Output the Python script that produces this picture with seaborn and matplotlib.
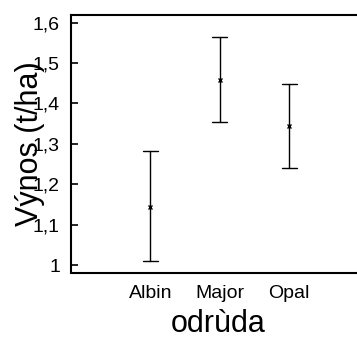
import matplotlib
matplotlib.use("Agg")
import matplotlib.pyplot as plt
import seaborn as sns
import pandas as pd

# Mean yield with lower/upper interval bounds per variety
odrudy = ["Albin", "Major", "Opal"]
prumer = [1.144, 1.458, 1.344]
dolni = [1.011, 1.354, 1.240]
horni = [1.282, 1.564, 1.448]
yticks = [1.0, 1.1, 1.2, 1.3, 1.4, 1.5, 1.6]
ytick_labels = ["1", "1,1", "1,2", "1,3", "1,4", "1,5", "1,6"]

rows = []
for o, lo, m, hi in zip(odrudy, dolni, prumer, horni):
    for v in (lo, m, hi):
        rows.append({"odrùda": o, "vynos": v})
df = pd.DataFrame(rows)

sns.set_style("white")
plt.rcParams["font.family"] = ["Liberation Sans", "DejaVu Sans"]
plt.rcParams["text.color"] = "black"
plt.rcParams["axes.labelcolor"] = "black"
plt.rcParams["xtick.color"] = "black"
plt.rcParams["ytick.color"] = "black"

fig = plt.figure(figsize=(3.57, 3.37), dpi=100)
W, H = 357, 337
left, right, top, bottom = 71, 380, 15, 272.5
ax = fig.add_axes([left / W, 1 - bottom / H, (right - left) / W, (bottom - top) / H])

sns.pointplot(data=df, x="odrùda", y="vynos", order=odrudy,
              estimator="median", errorbar=("pi", 100),
              linestyle="none", color="black", markers="x",
              markersize=2.5, markeredgewidth=1,
              capsize=0.21, err_kws={"linewidth": 1.0}, ax=ax)

ax.set_xlim(-1.14, 2 + (right - 289.3) / 69.5)
ax.set_ylim(1 - 7.5 / 404, 1.6 + 7.7 / 404)
ax.set_yticks(yticks)
ax.set_yticklabels(ytick_labels)
ax.tick_params(axis="y", direction="in", length=5, width=1.2, labelsize=14, pad=8, left=True)
ax.tick_params(axis="x", length=0, labelsize=14, pad=9)

for s in ("left", "bottom", "top"):
    ax.spines[s].set_linewidth(1.5)
    ax.spines[s].set_color("black")
ax.spines["right"].set_visible(False)

ax.set_xlabel("odrùda", fontsize=22)
ax.set_ylabel("Výnos (t/ha)", fontsize=22)
ax.xaxis.set_label_coords((218 - left) / (right - left), -(324 - bottom) / (bottom - top), transform=ax.transAxes)
ax.yaxis.set_label_coords(-(left - 30) / (right - left), 0.5, transform=ax.transAxes)
ax.xaxis.label.set_va("center")
ax.yaxis.label.set_va("center")

fig.savefig("out.png", dpi=100)
